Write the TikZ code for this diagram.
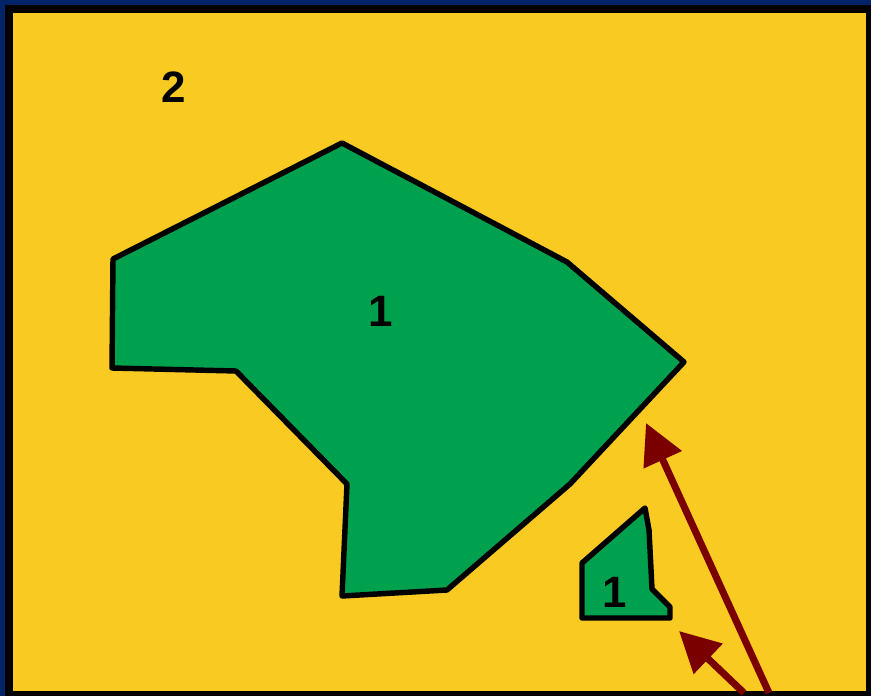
\documentclass[tikz,border=0pt]{standalone}
\usepackage{fontspec}
\setmainfont{Liberation Sans}
\usetikzlibrary{arrows.meta}
\definecolor{MapNavy}{HTML}{032468}
\definecolor{MapYellow}{HTML}{F9CA22}
\definecolor{MapGreen}{HTML}{00A14E}
\definecolor{MapRed}{HTML}{7A0000}

\begin{document}
\begin{tikzpicture}[
            x=0.02cm, y=-0.02cm,
            font=\fontsize{25}{28}\selectfont\bfseries,
            region/.style={
                    draw=black,
                    line width=3.1pt,
                    line join=round,
                    fill=MapGreen
                },
            regionlabel/.style={inner sep=0pt, text=black},
            pointer/.style={-{Triangle[length=23pt,width=23pt]}, line width=4pt, draw=MapRed},
        ]

        % frame
        \fill[MapNavy] (0,0) rectangle (871,696);
        \fill[black] (5,5) rectangle (871,696);
        \fill[MapYellow] (13,13) rectangle (866,691);
        \useasboundingbox (0,0) rectangle (871,696);

        % green areas
        \draw[region] (342,143) -- (567,262) -- (684,362) -- (570,484)
            -- (447,590) -- (342,596) -- (347,484) -- (236,371)
            -- (112,368) -- (113,259) -- cycle;
        \draw[region] (645,508) -- (582,563) -- (582,618) -- (670,618)
            -- (670,607) -- (652,589) -- (649,530) -- cycle;

        \node[regionlabel] (two) at (174,87) {2};
        \node[regionlabel] (oneBig) at (381,311) {1};
        \node[regionlabel] (oneSmall) at (615,592) {1};

        % pointers
        \coordinate (tailLong) at (769,693);
        \coordinate (tipLong) at (646,423);
        \coordinate (tailShort) at (744,693);
        \coordinate (tipShort) at (679,631);
        \draw[pointer] (tailLong) -- (tipLong);
        \draw[pointer] (tailShort) -- (tipShort);

    \end{tikzpicture}
\end{document}
